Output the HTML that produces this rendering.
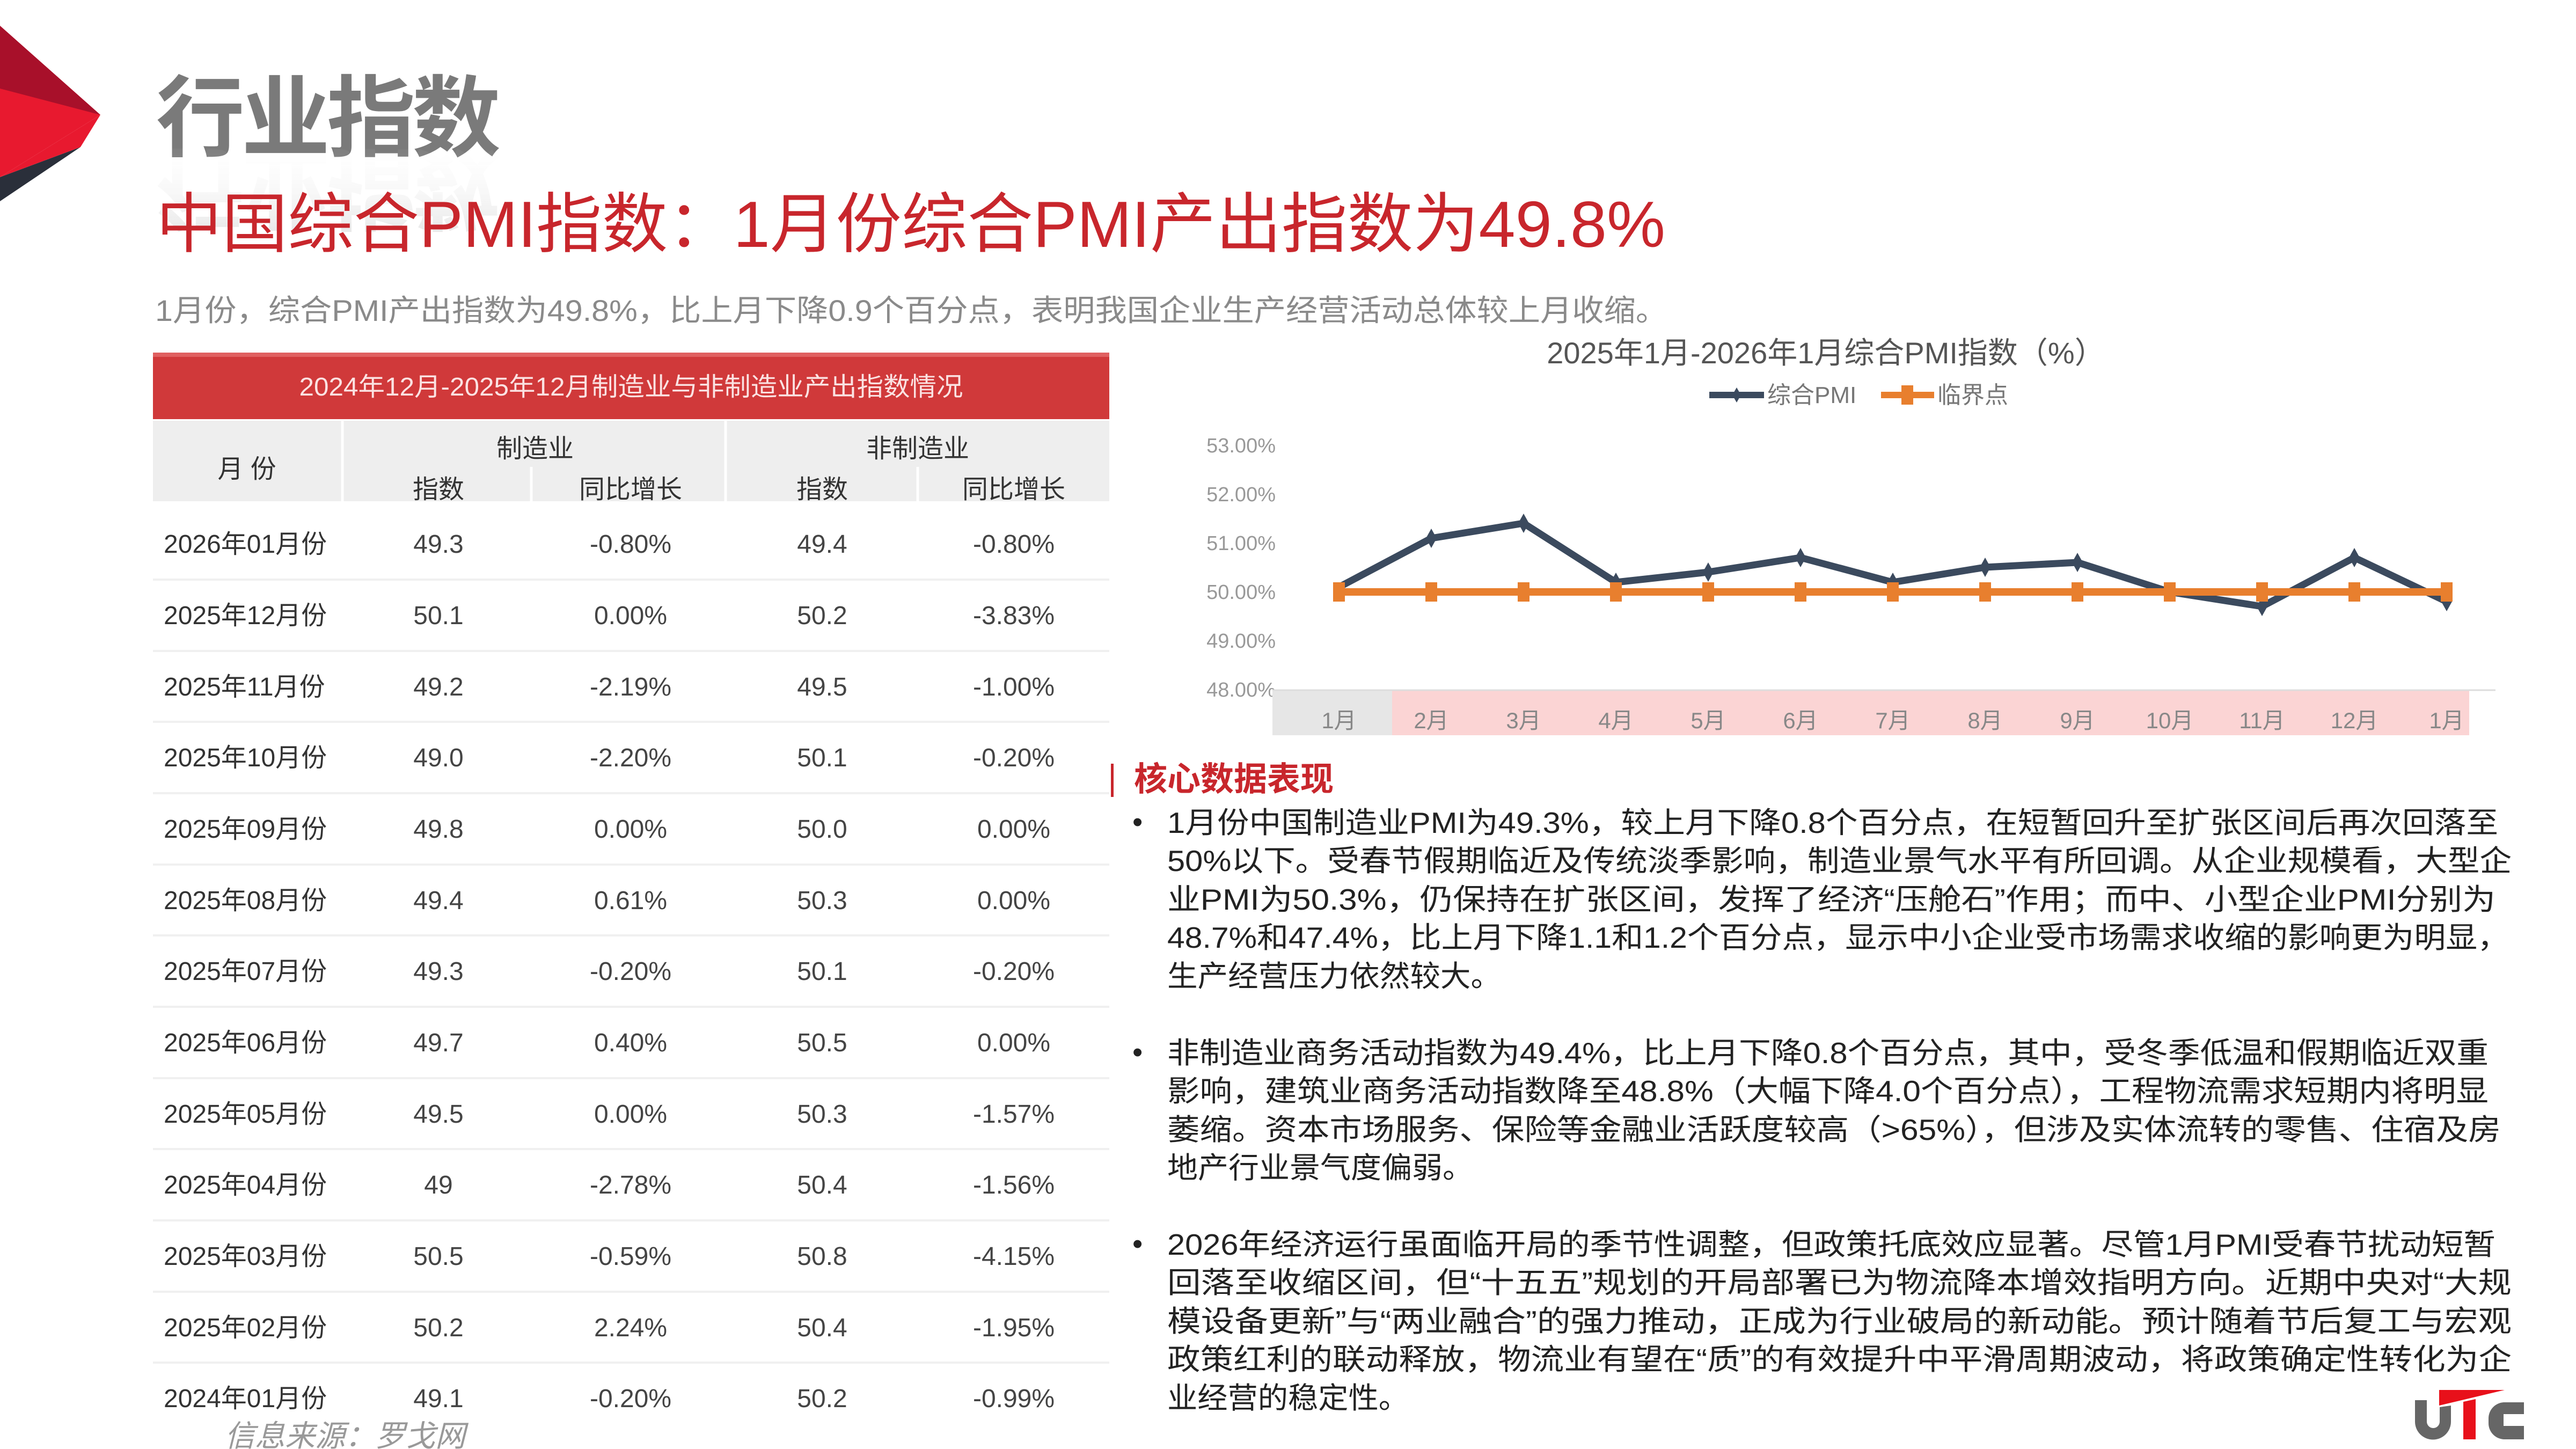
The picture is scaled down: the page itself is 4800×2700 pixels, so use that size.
<!DOCTYPE html>
<html><head><meta charset="utf-8"><style>
html,body{margin:0;padding:0;background:#fff;}
svg{display:block;}
text{font-family:"Liberation Sans","Noto Sans CJK SC",sans-serif;}
</style></head><body>
<svg width="4800" height="2700" viewBox="0 0 4800 2700" xmlns="http://www.w3.org/2000/svg">
<defs>
<linearGradient id="refl" x1="0" y1="0" x2="0" y2="1">
<stop offset="0" stop-color="#bbb" stop-opacity="0.8"/><stop offset="1" stop-color="#fff" stop-opacity="0"/>
</linearGradient>
</defs>
<rect width="4800" height="2700" fill="#fff"/>
<polygon points="0,48 187,214 0,330" fill="#e8192f"/>
<polygon points="0,48 187,214 0,165" fill="#a8102a"/>
<polygon points="0,330 150,274 0,375" fill="#2a2f3a"/>
<polygon points="0,330 187,214 150,274" fill="#e8192f"/>
<text x="291" y="278" font-size="165" font-weight="bold" fill="#7a7a7a" letter-spacing="-6">行业指数</text>
<g transform="translate(0,570) scale(1,-1)" opacity="0.45"><text x="291" y="278" font-size="165" font-weight="bold" fill="url(#refl)" letter-spacing="-6">行业指数</text></g>
<text x="291" y="460" font-size="122" fill="#c8262c" textLength="2812" lengthAdjust="spacingAndGlyphs">中国综合PMI指数：1月份综合PMI产出指数为49.8%</text>
<text x="289" y="598" font-size="56" fill="#8a8a8a" textLength="2818" lengthAdjust="spacingAndGlyphs">1月份，综合PMI产出指数为49.8%，比上月下降0.9个百分点，表明我国企业生产经营活动总体较上月收缩。</text>
<rect x="285" y="657" width="1782" height="124" fill="#d0393a"/>
<rect x="285" y="657" width="1782" height="8" fill="#e06060"/>
<text x="1176" y="737" font-size="48" fill="#fbe2e2" text-anchor="middle" textLength="1237" lengthAdjust="spacingAndGlyphs">2024年12月-2025年12月制造业与非制造业产出指数情况</text>
<rect x="285" y="784" width="1782" height="150" fill="#eeeeee"/>
<g stroke="#fff" stroke-width="5">
<line x1="638" y1="784" x2="638" y2="934"/><line x1="1352" y1="784" x2="1352" y2="934"/>
<line x1="990" y1="870" x2="990" y2="934"/><line x1="1710" y1="870" x2="1710" y2="934"/>
</g>
<g font-size="48" fill="#333" text-anchor="middle">
<text x="460" y="890">月  份</text>
<text x="997" y="852">制造业</text><text x="1710" y="852">非制造业</text>
<text x="817" y="928">指数</text><text x="1175" y="928">同比增长</text>
<text x="1532" y="928">指数</text><text x="1889" y="928">同比增长</text>
</g>
<g stroke="#f0f0f0" stroke-width="4">
<line x1="285" y1="1080" x2="2067" y2="1080"/><line x1="285" y1="1213" x2="2067" y2="1213"/><line x1="285" y1="1345" x2="2067" y2="1345"/><line x1="285" y1="1478" x2="2067" y2="1478"/><line x1="285" y1="1611" x2="2067" y2="1611"/><line x1="285" y1="1743" x2="2067" y2="1743"/><line x1="285" y1="1876" x2="2067" y2="1876"/><line x1="285" y1="2009" x2="2067" y2="2009"/><line x1="285" y1="2141" x2="2067" y2="2141"/><line x1="285" y1="2274" x2="2067" y2="2274"/><line x1="285" y1="2407" x2="2067" y2="2407"/><line x1="285" y1="2539" x2="2067" y2="2539"/>
</g>
<g font-size="48" fill="#333">
<text x="305" y="1030">2026年01月份</text><text x="305" y="1163">2025年12月份</text><text x="305" y="1296">2025年11月份</text><text x="305" y="1428">2025年10月份</text><text x="305" y="1561">2025年09月份</text><text x="305" y="1694">2025年08月份</text><text x="305" y="1826">2025年07月份</text><text x="305" y="1959">2025年06月份</text><text x="305" y="2092">2025年05月份</text><text x="305" y="2224">2025年04月份</text><text x="305" y="2357">2025年03月份</text><text x="305" y="2490">2025年02月份</text><text x="305" y="2622">2024年01月份</text>
</g>
<g font-size="48" fill="#444" text-anchor="middle">
<text x="817" y="1030">49.3</text><text x="1175" y="1030">-0.80%</text><text x="1532" y="1030">49.4</text><text x="1889" y="1030">-0.80%</text>
<text x="817" y="1163">50.1</text><text x="1175" y="1163">0.00%</text><text x="1532" y="1163">50.2</text><text x="1889" y="1163">-3.83%</text>
<text x="817" y="1296">49.2</text><text x="1175" y="1296">-2.19%</text><text x="1532" y="1296">49.5</text><text x="1889" y="1296">-1.00%</text>
<text x="817" y="1428">49.0</text><text x="1175" y="1428">-2.20%</text><text x="1532" y="1428">50.1</text><text x="1889" y="1428">-0.20%</text>
<text x="817" y="1561">49.8</text><text x="1175" y="1561">0.00%</text><text x="1532" y="1561">50.0</text><text x="1889" y="1561">0.00%</text>
<text x="817" y="1694">49.4</text><text x="1175" y="1694">0.61%</text><text x="1532" y="1694">50.3</text><text x="1889" y="1694">0.00%</text>
<text x="817" y="1826">49.3</text><text x="1175" y="1826">-0.20%</text><text x="1532" y="1826">50.1</text><text x="1889" y="1826">-0.20%</text>
<text x="817" y="1959">49.7</text><text x="1175" y="1959">0.40%</text><text x="1532" y="1959">50.5</text><text x="1889" y="1959">0.00%</text>
<text x="817" y="2092">49.5</text><text x="1175" y="2092">0.00%</text><text x="1532" y="2092">50.3</text><text x="1889" y="2092">-1.57%</text>
<text x="817" y="2224">49</text><text x="1175" y="2224">-2.78%</text><text x="1532" y="2224">50.4</text><text x="1889" y="2224">-1.56%</text>
<text x="817" y="2357">50.5</text><text x="1175" y="2357">-0.59%</text><text x="1532" y="2357">50.8</text><text x="1889" y="2357">-4.15%</text>
<text x="817" y="2490">50.2</text><text x="1175" y="2490">2.24%</text><text x="1532" y="2490">50.4</text><text x="1889" y="2490">-1.95%</text>
<text x="817" y="2622">49.1</text><text x="1175" y="2622">-0.20%</text><text x="1532" y="2622">50.2</text><text x="1889" y="2622">-0.99%</text>
</g>
<text x="419" y="2695" font-size="56" font-style="italic" fill="#999">信息来源：罗戈网</text>
<text x="3402" y="677" font-size="56" fill="#555" text-anchor="middle">2025年1月-2026年1月综合PMI指数（%）</text>
<line x1="3185" y1="736" x2="3287" y2="736" stroke="#3b4a5e" stroke-width="12"/>
<polygon points="3236,722 3244,736 3236,750 3228,736" fill="#3b4a5e"/>
<text x="3293" y="751" font-size="44" fill="#777">综合PMI</text>
<line x1="3505" y1="736" x2="3604" y2="736" stroke="#e87f2e" stroke-width="12"/>
<rect x="3543" y="718" width="22" height="36" fill="#e87f2e"/>
<text x="3610" y="751" font-size="44" fill="#777">临界点</text>
<g font-size="38" fill="#999" text-anchor="end">
<text x="2377" y="843">53.00%</text><text x="2377" y="934">52.00%</text><text x="2377" y="1025">51.00%</text><text x="2377" y="1116">50.00%</text><text x="2377" y="1207">49.00%</text><text x="2377" y="1298">48.00%</text>
</g>
<rect x="2371" y="1286" width="223" height="84" fill="#e6e6e6"/>
<rect x="2594" y="1286" width="2007" height="84" fill="#fbd4d4"/>
<line x1="2371" y1="1286" x2="4650" y2="1286" stroke="#ddd" stroke-width="3"/>
<g font-size="42" fill="#888" text-anchor="middle">
<text x="2495" y="1357">1月</text><text x="2667" y="1357">2月</text><text x="2839" y="1357">3月</text><text x="3011" y="1357">4月</text><text x="3183" y="1357">5月</text><text x="3355" y="1357">6月</text><text x="3527" y="1357">7月</text><text x="3699" y="1357">8月</text><text x="3871" y="1357">9月</text><text x="4043" y="1357">10月</text><text x="4215" y="1357">11月</text><text x="4387" y="1357">12月</text><text x="4559" y="1357">1月</text>
</g>
<polyline points="2495,1094 2667,1003 2839,975 3011,1085 3183,1066 3355,1039 3527,1085 3699,1057 3871,1048 4043,1103 4215,1130 4387,1039 4559,1121" fill="none" stroke="#3b4a5e" stroke-width="13" stroke-linejoin="round"/>
<g fill="#3b4a5e">
<polygon points="2667,985 2677,1003 2667,1021 2657,1003"/><polygon points="2839,957 2849,975 2839,993 2829,975"/><polygon points="3011,1067 3021,1085 3011,1103 3001,1085"/><polygon points="3183,1048 3193,1066 3183,1084 3173,1066"/><polygon points="3355,1021 3365,1039 3355,1057 3345,1039"/><polygon points="3527,1067 3537,1085 3527,1103 3517,1085"/><polygon points="3699,1039 3709,1057 3699,1075 3689,1057"/><polygon points="3871,1030 3881,1048 3871,1066 3861,1048"/><polygon points="4215,1112 4225,1130 4215,1148 4205,1130"/><polygon points="4387,1021 4397,1039 4387,1057 4377,1039"/><polygon points="4559,1103 4569,1121 4559,1139 4549,1121"/>
</g>
<line x1="2495" y1="1103" x2="4559" y2="1103" stroke="#e87f2e" stroke-width="14"/>
<g fill="#e87f2e">
<rect x="2484" y="1085" width="22" height="36"/><rect x="2656" y="1085" width="22" height="36"/><rect x="2828" y="1085" width="22" height="36"/><rect x="3000" y="1085" width="22" height="36"/><rect x="3172" y="1085" width="22" height="36"/><rect x="3344" y="1085" width="22" height="36"/><rect x="3516" y="1085" width="22" height="36"/><rect x="3688" y="1085" width="22" height="36"/><rect x="3860" y="1085" width="22" height="36"/><rect x="4032" y="1085" width="22" height="36"/><rect x="4204" y="1085" width="22" height="36"/><rect x="4376" y="1085" width="22" height="36"/><rect x="4548" y="1085" width="22" height="36"/>
</g>
<rect x="2070" y="1423" width="5" height="62" fill="#c8262c"/>
<text x="2113" y="1473" font-size="62" font-weight="bold" fill="#c8262c">核心数据表现</text>
<g font-size="55" fill="#222" lengthAdjust="spacingAndGlyphs">
<text x="2110" y="1550">•</text><text x="2110" y="1979">•</text><text x="2110" y="2336">•</text>
<text x="2175" y="1552" textLength="2480" lengthAdjust="spacingAndGlyphs">1月份中国制造业PMI为49.3%，较上月下降0.8个百分点，在短暂回升至扩张区间后再次回落至</text>
<text x="2175" y="1623" textLength="2505" lengthAdjust="spacingAndGlyphs">50%以下。受春节假期临近及传统淡季影响，制造业景气水平有所回调。从企业规模看，大型企</text>
<text x="2175" y="1695" textLength="2475" lengthAdjust="spacingAndGlyphs">业PMI为50.3%，仍保持在扩张区间，发挥了经济“压舱石”作用；而中、小型企业PMI分别为</text>
<text x="2175" y="1766" textLength="2500" lengthAdjust="spacingAndGlyphs">48.7%和47.4%，比上月下降1.1和1.2个百分点，显示中小企业受市场需求收缩的影响更为明显，</text>
<text x="2175" y="1838" textLength="622" lengthAdjust="spacingAndGlyphs">生产经营压力依然较大。</text>
<text x="2175" y="1981" textLength="2462" lengthAdjust="spacingAndGlyphs">非制造业商务活动指数为49.4%，比上月下降0.8个百分点，其中，受冬季低温和假期临近双重</text>
<text x="2175" y="2052" textLength="2462" lengthAdjust="spacingAndGlyphs">影响，建筑业商务活动指数降至48.8%（大幅下降4.0个百分点），工程物流需求短期内将明显</text>
<text x="2175" y="2124" textLength="2485" lengthAdjust="spacingAndGlyphs">萎缩。资本市场服务、保险等金融业活跃度较高（&gt;65%），但涉及实体流转的零售、住宿及房</text>
<text x="2175" y="2195" textLength="570" lengthAdjust="spacingAndGlyphs">地产行业景气度偏弱。</text>
<text x="2175" y="2338" textLength="2475" lengthAdjust="spacingAndGlyphs">2026年经济运行虽面临开局的季节性调整，但政策托底效应显著。尽管1月PMI受春节扰动短暂</text>
<text x="2175" y="2409" textLength="2505" lengthAdjust="spacingAndGlyphs">回落至收缩区间，但“十五五”规划的开局部署已为物流降本增效指明方向。近期中央对“大规</text>
<text x="2175" y="2481" textLength="2505" lengthAdjust="spacingAndGlyphs">模设备更新”与“两业融合”的强力推动，正成为行业破局的新动能。预计随着节后复工与宏观</text>
<text x="2175" y="2552" textLength="2505" lengthAdjust="spacingAndGlyphs">政策红利的联动释放，物流业有望在“质”的有效提升中平滑周期波动，将政策确定性转化为企</text>
<text x="2175" y="2624" textLength="450" lengthAdjust="spacingAndGlyphs">业经营的稳定性。</text>
</g>
<path d="M4500,2609 h22 v40 a12,12 0 0 0 24,0 v-27 l21,-3 v30 a33,33 0 0 1 -67,0 z" fill="#666"/>
<polygon points="4545,2590 4667,2590 4545,2619" fill="#e8101a"/>
<polygon points="4590,2612 4613,2607 4613,2682 4590,2682" fill="#e8101a"/>
<path d="M4703,2613 v22 h-38 v22 h38 v25 h-38 a30,30 0 0 1 -28,-30 v-9 a30,30 0 0 1 28,-30 z" fill="#666"/>
</svg>
</body></html>
